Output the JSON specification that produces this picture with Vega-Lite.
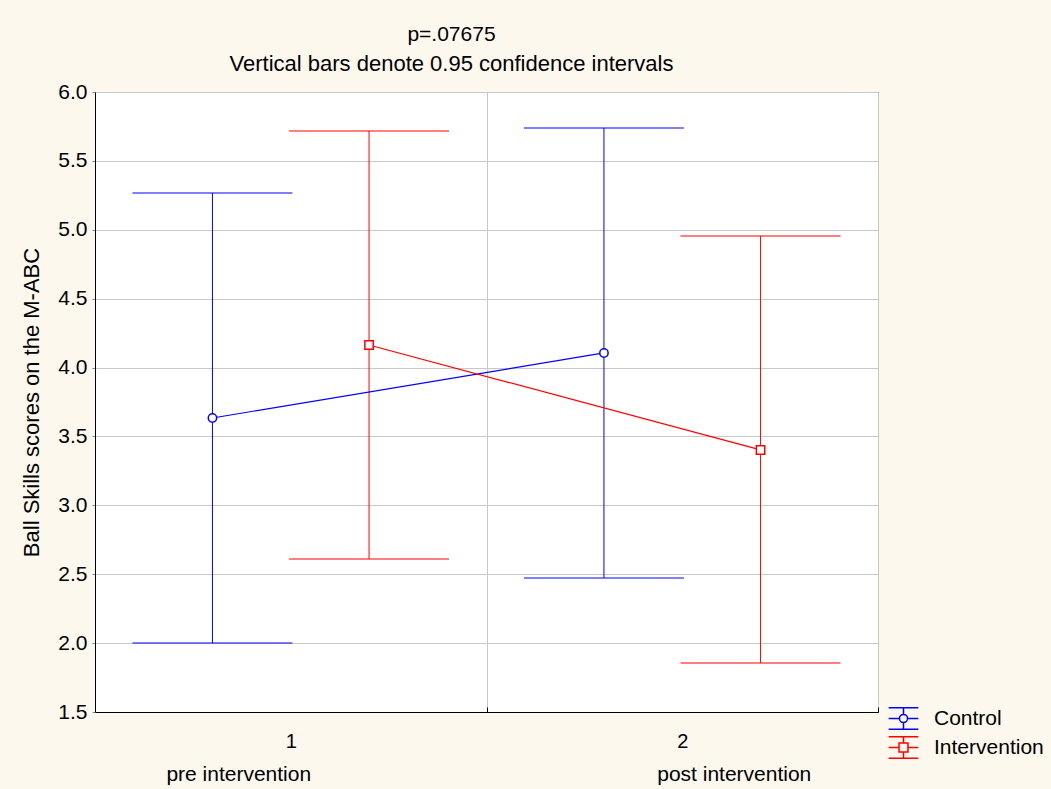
{
  "$schema": "https://vega.github.io/schema/vega-lite/v6.json",
  "autosize": {"type": "none"},
  "width": 783,
  "height": 620,
  "padding": {"left": 95, "top": 92, "right": 173, "bottom": 77},
  "background": "#FDF8EE",
  "title": {
    "text": "p=.07675",
    "subtitle": "Vertical bars denote 0.95 confidence intervals",
    "anchor": "middle",
    "dx": -35,
    "offset": 6,
    "font": "Liberation Sans",
    "fontSize": 21,
    "fontWeight": "normal",
    "color": "black",
    "subtitleFont": "Liberation Sans",
    "subtitleFontSize": 22,
    "subtitleColor": "black",
    "subtitlePadding": 9
  },
  "config": {
    "view": {"fill": "white", "stroke": "black", "strokeWidth": 1},
    "font": "Liberation Sans",
    "legend": {
      "title": null,
      "orient": "none",
      "legendX": 794,
      "legendY": 612,
      "labelFont": "Liberation Sans",
      "labelFontSize": 21,
      "labelColor": "black",
      "symbolStrokeWidth": 1.5,
      "symbolSize": 729,
      "rowPadding": 0,
      "labelOffset": 16
    },
    "axis": {
      "labelFont": "Liberation Sans",
      "labelFontSize": 21,
      "labelColor": "black",
      "titleFont": "Liberation Sans",
      "titleFontSize": 22,
      "titleFontWeight": "normal",
      "titleColor": "black",
      "domainColor": "black",
      "tickColor": "black",
      "gridColor": "#C8C8C8",
      "gridWidth": 1
    }
  },
  "datasets": {
    "stats": [
      {"time": "1", "group": "Control", "mean": 3.634, "lower": 2.0, "upper": 5.267},
      {"time": "1", "group": "Intervention", "mean": 4.164, "lower": 2.611, "upper": 5.717},
      {"time": "2", "group": "Control", "mean": 4.106, "lower": 2.473, "upper": 5.739},
      {"time": "2", "group": "Intervention", "mean": 3.402, "lower": 1.856, "upper": 4.955}
    ],
    "phases": [
      {"time": "1", "label": "pre intervention"},
      {"time": "2", "label": "post intervention"}
    ]
  },
  "resolve": {
    "scale": {"shape": "independent"},
    "legend": {"color": "independent", "shape": "independent"}
  },
  "encoding": {
    "x": {
      "field": "time",
      "type": "nominal",
      "scale": {"type": "band", "paddingInner": 0, "paddingOuter": 0, "domain": ["1", "2"]},
      "axis": {
        "title": null,
        "labelAngle": 0,
        "labelFontSize": 20,
        "grid": true,
        "tickBand": "extent",
        "tickSize": -5,
        "labelPadding": 24,
        "domain": true
      }
    }
  },
  "layer": [
    {
      "data": {"name": "stats"},
      "mark": {"type": "rule", "strokeWidth": 1},
      "encoding": {
        "xOffset": {"field": "group", "type": "nominal", "scale": {"type": "band", "paddingInner": 0.5, "paddingOuter": 0.5}},
        "y": {
          "field": "lower",
          "type": "quantitative",
          "scale": {"domain": [1.5, 6.0], "nice": false, "zero": false},
          "axis": {
            "title": "Ball Skills scores on the M-ABC",
            "values": [1.5, 2.0, 2.5, 3.0, 3.5, 4.0, 4.5, 5.0, 5.5, 6.0],
            "format": ".1f",
            "tickSize": 3,
            "tickColor": "#888888",
            "labelPadding": 5,
            "titlePadding": 14,
            "grid": true
          }
        },
        "y2": {"field": "upper"},
        "color": {
          "field": "group",
          "type": "nominal",
          "scale": {"domain": ["Control", "Intervention"], "range": ["#0000FF", "#FF0000"]},
          "legend": null
        }
      }
    },
    {
      "data": {"name": "stats"},
      "mark": {"type": "tick", "orient": "horizontal", "size": 160, "thickness": 1, "opacity": 1},
      "encoding": {
        "xOffset": {"field": "group", "type": "nominal", "scale": {"type": "band", "paddingInner": 0.5, "paddingOuter": 0.5}},
        "y": {"field": "upper", "type": "quantitative"},
        "color": {"field": "group", "type": "nominal", "legend": null}
      }
    },
    {
      "data": {"name": "stats"},
      "mark": {"type": "tick", "orient": "horizontal", "size": 160, "thickness": 1, "opacity": 1},
      "encoding": {
        "xOffset": {"field": "group", "type": "nominal", "scale": {"type": "band", "paddingInner": 0.5, "paddingOuter": 0.5}},
        "y": {"field": "lower", "type": "quantitative"},
        "color": {"field": "group", "type": "nominal", "legend": null}
      }
    },
    {
      "data": {"name": "stats"},
      "mark": {"type": "line", "strokeWidth": 1.2},
      "encoding": {
        "xOffset": {"field": "group", "type": "nominal", "scale": {"type": "band", "paddingInner": 0.5, "paddingOuter": 0.5}},
        "y": {"field": "mean", "type": "quantitative"},
        "color": {"field": "group", "type": "nominal", "legend": null},
        "detail": {"field": "group"}
      }
    },
    {
      "data": {"name": "stats"},
      "mark": {"type": "point", "filled": false, "fill": "white", "fillOpacity": 1, "strokeWidth": 1.5, "opacity": 1, "size": 70},
      "encoding": {
        "xOffset": {"field": "group", "type": "nominal", "scale": {"type": "band", "paddingInner": 0.5, "paddingOuter": 0.5}},
        "y": {"field": "mean", "type": "quantitative"},
        "color": {"field": "group", "type": "nominal", "legend": null},
        "shape": {
          "field": "group",
          "type": "nominal",
          "scale": {"domain": ["Control", "Intervention"], "range": ["circle", "square"]},
          "legend": null
        }
      }
    },
    {
      "data": {"name": "stats"},
      "transform": [{"filter": "false"}],
      "mark": {"type": "point", "filled": false, "strokeWidth": 1.5, "opacity": 1, "size": 729},
      "encoding": {
        "xOffset": {"field": "group", "type": "nominal", "scale": {"type": "band", "paddingInner": 0.5, "paddingOuter": 0.5}},
        "y": {"field": "mean", "type": "quantitative"},
        "color": {"field": "group", "type": "nominal", "legend": {}},
        "shape": {
          "field": "group",
          "type": "nominal",
          "scale": {
            "domain": ["Control", "Intervention"],
            "range": [
              "M-1.1,-0.8L1.1,-0.8M-1.1,0.8L1.1,0.8M-1.1,0L-0.3,0M0.3,0L1.1,0M0,-0.8L0,-0.3M0,0.3L0,0.8M-0.3,0A0.3,0.3 0 1,0 0.3,0A0.3,0.3 0 1,0 -0.3,0Z",
              "M-1.1,-0.8L1.1,-0.8M-1.1,0.8L1.1,0.8M-1.1,0L-0.33,0M0.33,0L1.1,0M0,-0.8L0,-0.33M0,0.33L0,0.8M-0.33,-0.33L0.33,-0.33L0.33,0.33L-0.33,0.33Z"
            ]
          },
          "legend": {}
        }
      }
    },
    {
      "data": {"name": "phases"},
      "transform": [{"filter": "datum.time === '1'"}],
      "mark": {"type": "text", "font": "Liberation Sans", "fontSize": 21, "color": "black", "dx": -52, "dy": 63, "baseline": "middle"},
      "encoding": {
        "y": {"datum": 1.5, "type": "quantitative"},
        "text": {"field": "label"}
      }
    },
    {
      "data": {"name": "phases"},
      "transform": [{"filter": "datum.time === '2'"}],
      "mark": {"type": "text", "font": "Liberation Sans", "fontSize": 21, "color": "black", "dx": 52, "dy": 63, "baseline": "middle"},
      "encoding": {
        "y": {"datum": 1.5, "type": "quantitative"},
        "text": {"field": "label"}
      }
    }
  ]
}
